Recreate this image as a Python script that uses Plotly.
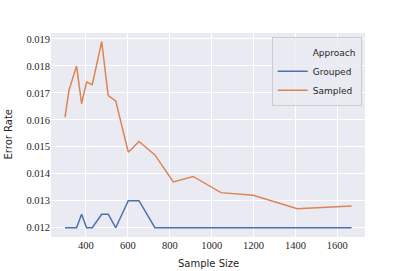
import plotly.graph_objects as go

sample_size = [300, 319, 355, 379, 403, 430, 475, 506, 542, 602, 653, 729, 817, 912, 1044, 1198, 1409, 1668]
grouped = [0.0120, 0.0120, 0.0120, 0.0125, 0.0120, 0.0120, 0.0125, 0.0125, 0.0120, 0.0130, 0.0130,
           0.0120, 0.0120, 0.0120, 0.0120, 0.0120, 0.0120, 0.0120]
sampled = [0.0161, 0.0171, 0.0180, 0.0166, 0.0174, 0.0173, 0.0189, 0.0169, 0.0167, 0.0148, 0.0152,
           0.0147, 0.0137, 0.0139, 0.0133, 0.0132, 0.0127, 0.0128]
x_ticks = [400, 600, 800, 1000, 1200, 1400, 1600]
y_ticks = [0.012, 0.013, 0.014, 0.015, 0.016, 0.017, 0.018, 0.019]

fig = go.Figure()
fig.add_trace(go.Scatter(x=[None], y=[None], mode="lines", name="Approach",
                         line=dict(color="rgba(0,0,0,0)", width=1.5)))
fig.add_trace(go.Scatter(x=sample_size, y=grouped, mode="lines", name="Grouped",
                         line=dict(color="#4C72B0", width=1.5)))
fig.add_trace(go.Scatter(x=sample_size, y=sampled, mode="lines", name="Sampled",
                         line=dict(color="#DD8452", width=1.5)))

tick_font = dict(family="Liberation Serif", size=10.5, color="#262626")
fig.update_layout(
    width=407, height=271,
    margin=dict(l=51, r=42, t=33, b=34),
    paper_bgcolor="white", plot_bgcolor="#EAEAF2",
    font=dict(family="DejaVu Sans", size=10, color="#262626"),
    showlegend=True,
    legend=dict(x=0.9895, y=0.982, xanchor="right", yanchor="top",
                bgcolor="rgba(234,234,242,0.8)", bordercolor="#CCCCCC", borderwidth=1,
                font=dict(family="DejaVu Sans", size=9, color="#262626"),
                itemwidth=30, tracegroupgap=0),
    xaxis=dict(range=[233, 1732], tickvals=x_ticks, ticktext=[str(v) for v in x_ticks],
               showgrid=True, gridcolor="white", gridwidth=1, zeroline=False,
               showline=False, ticks="", tickfont=tick_font, automargin=False),
    yaxis=dict(range=[0.011655, 0.01922], tickvals=y_ticks,
               ticktext=[f"{v:.3f}" for v in y_ticks],
               showgrid=True, gridcolor="white", gridwidth=1, zeroline=False,
               showline=False, ticks="", tickfont=tick_font, automargin=False),
    annotations=[
        dict(text="Sample Size", xref="paper", yref="paper", x=0.5, y=0,
             xanchor="center", yanchor="top", yshift=-19, showarrow=False,
             font=dict(family="DejaVu Sans", size=10, color="#262626")),
        dict(text="Error Rate", xref="paper", yref="paper", x=0, y=0.5,
             xanchor="right", yanchor="middle", xshift=-36, textangle=-90,
             showarrow=False, font=dict(family="DejaVu Sans", size=10, color="#262626")),
    ],
)
fig.write_html("out.html", post_script="document.body.style.margin='0px';",
               config={"displayModeBar": False})
